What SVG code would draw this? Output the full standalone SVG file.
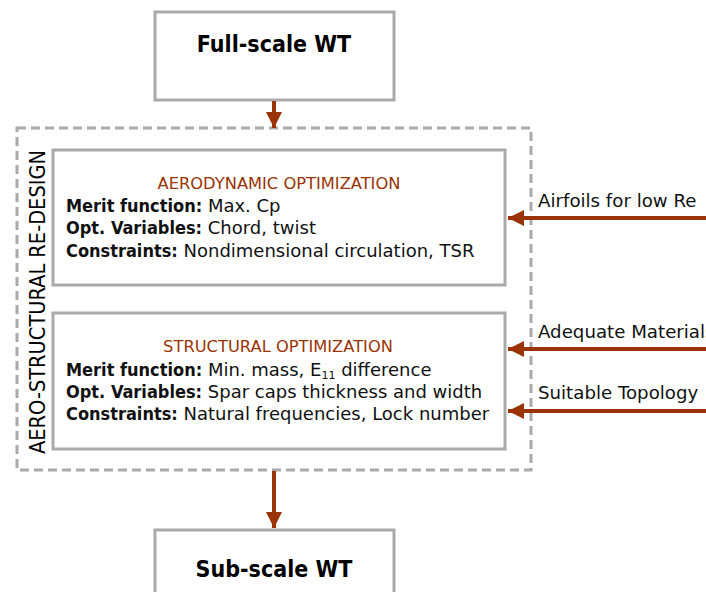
<svg xmlns="http://www.w3.org/2000/svg" width="706" height="592" viewBox="0 0 706 592">
<defs>
<style>
.box{fill:#fff;stroke:#aaa;stroke-width:3}
.dash{fill:none;stroke:#aaa;stroke-width:3;stroke-dasharray:9 5}
.conn{stroke:#9a3306;stroke-width:4;fill:none}
.big{font-family:"DejaVu Sans Condensed","DejaVu Sans",sans-serif;font-weight:bold;font-size:23px;fill:#000;text-anchor:middle}
.t{font-family:"DejaVu Sans",sans-serif;font-size:18px;fill:#111}
.b{font-family:"DejaVu Sans Condensed","DejaVu Sans",sans-serif;font-weight:bold;font-size:18px}
.title{font-family:"DejaVu Sans",sans-serif;font-size:16.3px;fill:#9a3306;text-anchor:middle}
.lab{font-family:"DejaVu Sans",sans-serif;font-size:18.2px;fill:#111}
.side{font-family:"DejaVu Sans Condensed","DejaVu Sans",sans-serif;font-size:21.6px;fill:#000;text-anchor:middle}
</style>
<marker id="ah" viewBox="0 0 10 10" refX="10" refY="5" markerWidth="4" markerHeight="4" orient="auto" markerUnits="strokeWidth">
<path d="M0,0 L10,5 L0,10 z" fill="#9a3306"/>
</marker>
</defs>
<g id="full">
<rect class="box" x="155" y="12" width="239" height="88"/>
<text class="big" x="274" y="52">Full-scale WT</text>
</g>
<g id="redesign">
<rect class="dash" x="17" y="128" width="514" height="342"/>
<text class="side" transform="translate(45,302) rotate(-90)">AERO-STRUCTURAL RE-DESIGN</text>
</g>
<g id="aero">
<rect class="box" x="53" y="150" width="452" height="135"/>
<text class="title" x="279" y="189">AERODYNAMIC OPTIMIZATION</text>
<text class="t" x="66" y="212"><tspan class="b">Merit function:</tspan> Max. Cp</text>
<text class="t" x="66" y="234"><tspan class="b">Opt. Variables:</tspan> Chord, twist</text>
<text class="t" x="66" y="257"><tspan class="b">Constraints:</tspan> Nondimensional circulation, TSR</text>
</g>
<g id="struct">
<rect class="box" x="53" y="313" width="452" height="136"/>
<text class="title" x="278" y="352">STRUCTURAL OPTIMIZATION</text>
<text class="t" x="66" y="376"><tspan class="b">Merit function:</tspan> Min. mass, E<tspan font-size="11" dy="3">11</tspan><tspan dy="-3"> difference</tspan></text>
<text class="t" x="66" y="398"><tspan class="b">Opt. Variables:</tspan> Spar caps thickness and width</text>
<text class="t" x="66" y="420"><tspan class="b">Constraints:</tspan> Natural frequencies, Lock number</text>
</g>
<g id="sub">
<rect class="box" x="155" y="530" width="239" height="70"/>
<text class="big" x="274" y="577">Sub-scale WT</text>
</g>
<g id="labels">
<text class="lab" x="538" y="207">Airfoils for low Re</text>
<text class="lab" x="538" y="338">Adequate Materials</text>
<text class="lab" x="538" y="399">Suitable Topology</text>
</g>
<g id="connectors">
<line class="conn" x1="274" y1="101" x2="274" y2="128" marker-end="url(#ah)"/>
<line class="conn" x1="274" y1="471" x2="274" y2="528" marker-end="url(#ah)"/>
<line class="conn" x1="706" y1="218" x2="508" y2="218" marker-end="url(#ah)"/>
<line class="conn" x1="706" y1="349" x2="508" y2="349" marker-end="url(#ah)"/>
<line class="conn" x1="706" y1="411" x2="508" y2="411" marker-end="url(#ah)"/>
</g>
</svg>
